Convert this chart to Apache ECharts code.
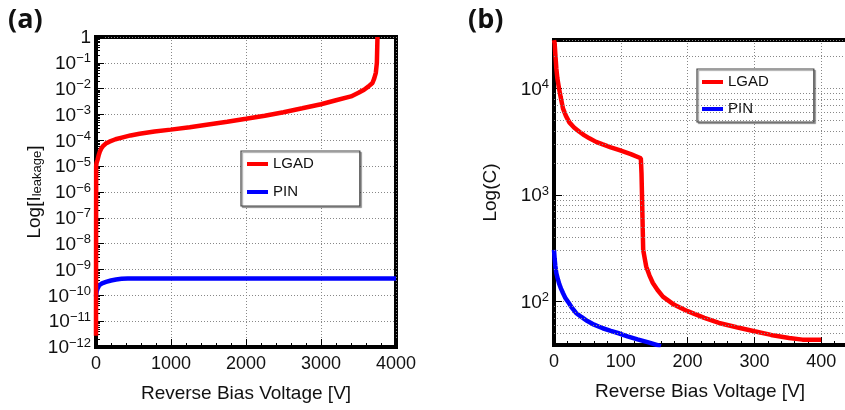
<!DOCTYPE html>
<html>
<head>
<meta charset="utf-8">
<script src="https://cdn.jsdelivr.net/npm/echarts@6/dist/echarts.min.js"></script>
<style>
html, body { margin: 0; padding: 0; background: #fff; }
#chart { width: 845px; height: 410px; }
</style>
</head>
<body>
<div id="chart"></div>
<script>
// (a) leakage current vs reverse bias voltage  [V, A]
const leakLgad = [[0, 2.7e-12], [2, 1e-5], [8, 1.35e-5], [22, 1.8e-5], [35, 2.6e-5], [50, 3.6e-5],
  [70, 4.8e-5], [89, 5.8e-5], [130, 7.5e-5], [179, 8.9e-5], [260, 1.1e-4], [357, 1.3e-4],
  [460, 1.55e-4], [581, 1.8e-4], [780, 2.2e-4], [996, 2.6e-4], [1250, 3.2e-4], [1475, 4e-4],
  [1750, 5.2e-4], [2000, 6.8e-4], [2250, 9e-4], [2500, 1.23e-3], [2750, 1.75e-3], [3000, 2.5e-3],
  [3200, 3.55e-3], [3400, 5e-3], [3500, 6.9e-3], [3574, 9.1e-3], [3630, 1.2e-2], [3686, 1.66e-2],
  [3710, 2.5e-2], [3731, 4.1e-2], [3745, 0.1], [3753, 1]];
const leakPin = [[0, 0.9e-10], [5, 1.2e-10], [10, 1.45e-10], [20, 1.8e-10], [44, 2.45e-10],
  [80, 2.9e-10], [134, 3.3e-10], [200, 3.75e-10], [268, 4.1e-10], [340, 4.35e-10], [424, 4.5e-10],
  [4000, 4.5e-10]];

// (b) capacitance vs reverse bias voltage
const capLgad = [[0, 2.84e4], [1, 2.64e4], [2, 2.1e4], [3.5, 1.54e4], [5, 1.25e4], [7.5, 1e4],
  [10, 8.3e3], [13.4, 6.5e3], [18, 5.5e3], [23, 4.8e3], [30, 4.3e3], [38, 3.92e3], [45, 3.65e3],
  [53, 3.4e3], [63, 3.15e3], [73, 2.98e3], [85, 2.8e3], [98, 2.63e3], [115, 2.42e3], [130, 2.21e3],
  [131, 1.6e3], [132.5, 600], [133.5, 305], [138, 213], [143, 175], [148, 149], [155, 128],
  [163, 111], [180, 93], [200, 81], [225, 70], [247, 62.8], [275, 57], [300, 52.5], [325, 48.5],
  [352, 45.4], [372, 43.8], [400, 43.8]];
const capPin = [[0, 305], [1, 250], [2, 215], [3.5, 184], [6, 160], [8, 145], [10.5, 132],
  [13.4, 120], [17, 108], [22, 97], [27, 87], [33, 78], [41, 71.5], [50, 65.5], [60, 60.5], [73, 56],
  [85, 53], [98, 50], [110, 47], [125, 44], [140, 41.5], [160, 38]];

// minor grid values for the capacitance axis
const capMinorGrid = [50, 60, 70, 80, 90, 200, 300, 400, 500, 600, 700, 800, 900,
  2000, 3000, 4000, 5000, 6000, 7000, 8000, 9000, 20000];

const FONT = 'Liberation Sans';
const INK = '#111';

function powLabel(v) {
  const lg = Math.log10(v);
  const e = Math.round(lg);
  if (Math.abs(lg - e) > 0.01) return '';
  if (e === 0) return '{b|1}';
  return '{b|10}{s|' + (e < 0 ? '\u2212' + (-e) : e) + '}';
}

const labelRich = {
  b: { fontSize: 19, fontFamily: FONT, color: INK, lineHeight: 21, verticalAlign: 'bottom' },
  s: { fontSize: 13, fontFamily: FONT, color: INK, lineHeight: 13, verticalAlign: 'top' }
};

const dotted = { show: true, lineStyle: { color: '#888', type: [1, 2], width: 1 } };

function xAxisOpt(gi, max, interval, namePad) {
  return {
    type: 'value', gridIndex: gi, min: 0, max: max, interval: interval,
    name: 'Reverse Bias Voltage [V]', nameLocation: 'middle', nameGap: 37,
    nameTextStyle: { fontSize: 19, fontFamily: FONT, color: INK, padding: namePad },
    axisLine: { show: true, lineStyle: { color: '#000', width: 4 } },
    axisTick: { show: true, inside: true, length: 8, lineStyle: { color: '#000', width: 1 } },
    minorTick: { show: true, splitNumber: 5, length: 4, lineStyle: { color: '#000', width: 1 } },
    axisLabel: {
      fontSize: 18, fontFamily: FONT, color: INK, margin: 8,
      formatter: v => (v % interval === 0 ? String(v) : '')
    },
    splitLine: dotted
  };
}

function yAxisOpt(gi, min, max, name, nameGap, extra) {
  return Object.assign({
    type: 'log', logBase: 10, gridIndex: gi, min: min, max: max,
    name: name, nameLocation: 'middle', nameGap: nameGap, nameRotate: 90,
    nameTextStyle: {
      fontSize: 19, fontFamily: FONT, color: INK,
      rich: {
        m: { fontSize: 19, fontFamily: FONT, color: INK, lineHeight: 19, verticalAlign: 'top' },
        sub: { fontSize: 13, fontFamily: FONT, color: INK, lineHeight: 13, padding: [10, 0, 0, 0], verticalAlign: 'bottom' }
      }
    },
    axisLine: { show: true, lineStyle: { color: '#000', width: 4 } },
    axisTick: { show: true, inside: true, length: 8, lineStyle: { color: '#000', width: 1 } },
    axisLabel: { margin: 5, formatter: powLabel, rich: labelRich },
    splitLine: dotted
  }, extra);
}

function legendOpt(left, top, padding, gap) {
  return {
    data: ['LGAD', 'PIN'], orient: 'vertical', left: left, top: top,
    padding: padding, itemGap: gap, itemWidth: 21, itemHeight: 4, icon: 'rect',
    textStyle: { fontSize: 15, fontFamily: FONT, color: INK, lineHeight: 18 },
    backgroundColor: '#fff', borderColor: '#444', borderWidth: 1.2,
    shadowColor: 'rgba(0,0,0,0.35)', shadowOffsetX: 1.5, shadowOffsetY: 1.5, shadowBlur: 1,
    selectedMode: false
  };
}

function lineSeries(name, color, xi, data, z) {
  return {
    name: name, type: 'line', xAxisIndex: xi, yAxisIndex: xi, data: data,
    symbol: 'none', showSymbol: false, z: z,
    lineStyle: { color: color, width: 4.5 }, itemStyle: { color: color }
  };
}

const chart = echarts.init(document.getElementById('chart'), null, { renderer: 'canvas' });

const pinCap = lineSeries('PIN', '#0000ff', 1, capPin, 2);
pinCap.markLine = {
  silent: true, symbol: 'none', label: { show: false },
  lineStyle: { color: '#888', type: [1, 2], width: 1 },
  data: capMinorGrid.map(v => ({ yAxis: v }))
};

chart.setOption({
  animation: false,
  backgroundColor: '#fff',
  title: [
    { text: '(a)', left: 8, top: 7, padding: 0, textStyle: { fontSize: 27, fontWeight: 'bold', fontFamily: 'Open Sans', color: INK } },
    { text: '(b)', left: 468, top: 7, padding: 0, textStyle: { fontSize: 27, fontWeight: 'bold', fontFamily: 'Open Sans', color: INK } }
  ],
  grid: [
    { left: 96, top: 37, width: 300, height: 310, show: true, borderColor: '#000', borderWidth: 4,
      backgroundColor: 'transparent', outerBoundsMode: 'none' },
    { left: 554, top: 40, width: 334, height: 305, show: true, borderColor: '#000', borderWidth: 4,
      backgroundColor: 'transparent', outerBoundsMode: 'none' }
  ],
  legend: [
    legendOpt(241, 151, [4, 46, 5, 6], 10),
    legendOpt(697, 69, [4, 45, 4, 5], 9)
  ],
  xAxis: [
    xAxisOpt(0, 4000, 1000, [0, 0, 0, 0]),
    xAxisOpt(1, 500, 100, [0, 42, 0, 0])
  ],
  yAxis: [
    yAxisOpt(0, 1e-12, 1, '{m|Log[I}{sub|leakage}{m|]}', 50, {
      interval: 1,
      minorTick: { show: true, splitNumber: 9, length: 4, lineStyle: { color: '#000', width: 1 } }
    }),
    yAxisOpt(1, 39, 28500, '{m|Log(C)}', 54, {})
  ],
  series: [
    lineSeries('LGAD', '#ff0000', 0, leakLgad, 3),
    lineSeries('PIN', '#0000ff', 0, leakPin, 2),
    lineSeries('LGAD', '#ff0000', 1, capLgad, 3),
    pinCap
  ]
});
</script>
</body>
</html>
